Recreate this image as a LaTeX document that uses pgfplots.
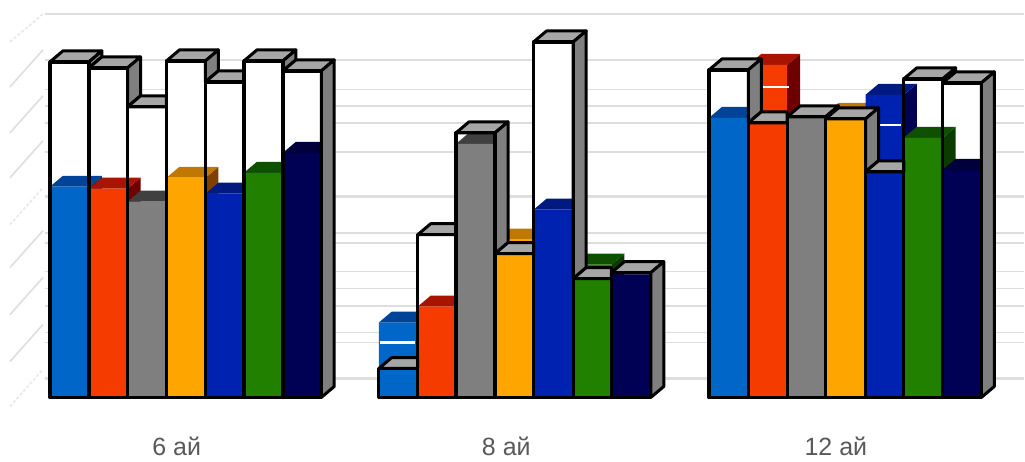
\documentclass[border=0pt]{standalone}
\usepackage{pgfplots}
\pgfplotsset{compat=1.18}
\usepackage{fontspec}
\setmainfont{Liberation Sans}

% series colours: front, top face (T), side face (S)
\definecolor{cblue}{HTML}{0066C8}\definecolor{cblueT}{HTML}{00449A}\definecolor{cblueS}{HTML}{00387F}
\definecolor{cred}{HTML}{F53B00}\definecolor{credT}{HTML}{A81400}\definecolor{credS}{HTML}{6E0000}
\definecolor{cgray}{HTML}{7F7F7F}\definecolor{cgrayT}{HTML}{404040}\definecolor{cgrayS}{HTML}{404040}
\definecolor{corange}{HTML}{FFA500}\definecolor{corangeT}{HTML}{C07800}\definecolor{corangeS}{HTML}{804000}
\definecolor{croyal}{HTML}{0022B0}\definecolor{croyalT}{HTML}{001A80}\definecolor{croyalS}{HTML}{000055}
\definecolor{cgreen}{HTML}{228000}\definecolor{cgreenT}{HTML}{0F5000}\definecolor{cgreenS}{HTML}{0A3C00}
\definecolor{cnavy}{HTML}{000055}\definecolor{cnavyT}{HTML}{00003C}\definecolor{cnavyS}{HTML}{000030}
\definecolor{shellT}{HTML}{A6A6A6}\definecolor{shellS}{HTML}{7F7F7F}
\definecolor{gridc}{HTML}{DEDEDE}

\def\dpx{13}\def\dpy{11}

% filled polygon with expanded coordinates
\newcommand\poly[2]{\edef\tmp{\noexpand\addplot[#1] coordinates {#2};}\tmp}

% every pass takes: left, right, outer height, value, colour, outer height of next bar
\newcommand\whitefront[6]{\poly{fill=white,draw=none}{(#1,0)(#2,0)(#2,#3)(#1,#3)(#1,0)}}
\newcommand\colourbar[6]{%
  \pgfmathsetmacro\xa{#1+\dpx}\pgfmathsetmacro\xb{#2+\dpx}\pgfmathsetmacro\yt{#4+\dpy}%
  \poly{fill=#5S,draw=none}{(#2,0)(\xb,\dpy)(\xb,\yt)(#2,#4)(#2,0)}%
  \poly{fill=#5T,draw=none}{(#1,#4)(\xa,\yt)(\xb,\yt)(#2,#4)(#1,#4)}%
  \poly{fill=#5,draw=none}{(#1,0)(#2,0)(#2,#4)(#1,#4)(#1,0)}}
\newcommand\shelltop[6]{%
  \pgfmathsetmacro\xa{#1+\dpx}\pgfmathsetmacro\xb{#2+\dpx}%
  \pgfmathsetmacro\yt{#3+\dpy}\pgfmathsetmacro\yn{#6+\dpy}%
  \ifdim #6pt<#3pt
    \poly{fill=shellT,draw=black,line width=3pt,line join=round}{(#1,#3)(\xa,\yt)(\xb,\yt)(#2,#3)(#1,#3)}%
    \poly{fill=shellS,draw=black,line width=3pt,line join=round}{(#2,#3)(\xb,\yt)(\xb,\yn)(#2,#6)(#2,#3)}%
  \else
    \poly{fill=shellT,draw=black,line width=3pt,line join=round}{(#1,#3)(\xa,\yt)(#2,\yt)(#2,#3)(#1,#3)}%
  \fi}
\newcommand\frontline[6]{\poly{draw=black,line width=3.3pt,line join=round,line cap=round}{(#1,0)(#2,0)(#2,#3)(#1,#3)(#1,0)}}

% the three groups of bars
\newcommand\groupA[1]{%
  #1{50}{89}{336}{211}{cblue}{330}%
  #1{89}{127.7}{330}{209}{cred}{291}%
  #1{127.7}{166.7}{291}{196}{cgray}{337}%
  #1{166.7}{205.7}{337}{220}{corange}{316}%
  #1{205.7}{244.3}{316}{204}{croyal}{337}%
  #1{244.3}{283.3}{337}{225}{cgreen}{327}%
  #1{283.3}{321.7}{327}{245}{cnavy}{0}}
\newcommand\groupB[1]{%
  #1{379.3}{418.3}{29}{75}{cblue}{163}%
  #1{418.3}{456.7}{163}{91}{cred}{265}%
  #1{456.7}{495.7}{265}{254}{cgray}{144}%
  #1{495.7}{534.3}{144}{158}{corange}{356}%
  #1{534.3}{574}{356}{188}{croyal}{119}%
  #1{574}{612.3}{119}{133}{cgreen}{125}%
  #1{612.3}{651.7}{125}{123}{cnavy}{0}}
\newcommand\groupC[1]{%
  #1{710}{749.3}{328}{280}{cblue}{275}%
  #1{749.3}{788.3}{275}{333}{cred}{281}%
  #1{788.3}{826.7}{281}{281}{cgray}{279}%
  #1{826.7}{866.7}{279}{284}{corange}{226}%
  #1{866.7}{905}{226}{303}{croyal}{319}%
  #1{905}{944}{319}{260}{cgreen}{315}%
  #1{944}{982.7}{315}{228}{cnavy}{0}}

\newcommand\drawgroup[1]{%
  #1\whitefront
  #1\colourbar}
\newcommand\finishgroup[1]{%
  #1\shelltop
  #1\frontline}
\newcommand\hgrid[2]{\addplot[draw=gridc,line width=#2pt] coordinates {(45,#1)(1025,#1)};}
\newcommand\slant[3]{\addplot[draw=gridc,line width=1.6pt,#3] coordinates {(10,#1)(43,#2)};}

\begin{document}
\begin{tikzpicture}
\path (0,0) rectangle (1025pt,462pt);
\begin{axis}[
  at={(0,0)},anchor=south west,
  scale only axis,width=1025pt,height=462pt,
  xmin=0,xmax=1025,ymin=-64,ymax=398,
  hide axis,clip=false]
% wall lines
\hgrid{384}{2}\hgrid{338}{2.6}\hgrid{308}{0.9}\hgrid{292}{2}\hgrid{275}{1.6}
\hgrid{246}{2}\hgrid{201}{2.8}\hgrid{165}{2}\hgrid{155}{2.2}\hgrid{126}{1.4}
\hgrid{109}{1.8}\hgrid{92}{2}\hgrid{65}{1.6}\hgrid{55}{1.6}\hgrid{19}{2.6}
% floor side of the wall
\slant{356}{384}{densely dashed,gridc!70}
\slant{311}{348}{}
\slant{265}{302}{}
\slant{220}{257}{}
\slant{173}{210}{densely dashed,gridc!70}
\slant{130}{167}{}
\slant{83}{120}{}
\slant{36}{73}{}
\slant{-9}{28}{densely dashed,gridc!70}

\drawgroup\groupA
\drawgroup\groupB
\drawgroup\groupC
% wall lines seen across raised bars
\addplot[draw=white,line width=2.4pt] coordinates {(381,55)(416,55)};
\addplot[draw=white,line width=2.4pt] coordinates {(763,311)(790,311)};
\addplot[draw=white,line width=2.4pt] coordinates {(881,273)(902,273)};
\finishgroup\groupA
\finishgroup\groupB
\finishgroup\groupC

\node[font=\fontsize{25}{25}\selectfont,text=black!65,inner sep=0pt,anchor=base] at (axis cs:177,-58.5) {6 ай};
\node[font=\fontsize{25}{25}\selectfont,text=black!65,inner sep=0pt,anchor=base] at (axis cs:507,-58.5) {8 ай};
\node[font=\fontsize{25}{25}\selectfont,text=black!65,inner sep=0pt,anchor=base] at (axis cs:837,-58.5) {12 ай};
\end{axis}
\end{tikzpicture}
\end{document}
